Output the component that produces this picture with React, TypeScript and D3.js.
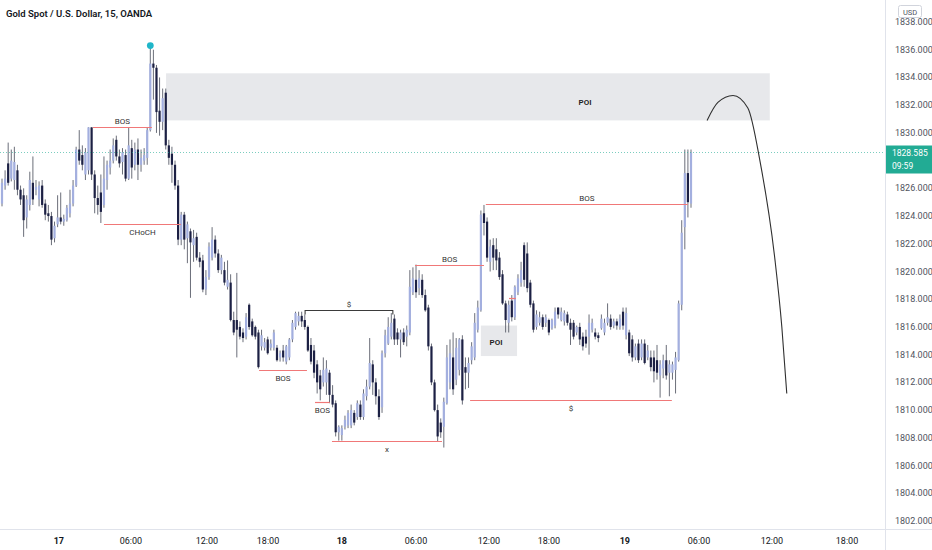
import React from "react";
import * as d3 from "d3";

type Candle = [number, number, number, number]; // open, high, low, close

const candlesDay17: Candle[] = [
  [1824.9,1826.7,1824.7,1826.4],[1826.2,1827.3,1825.9,1826.7],[1827.8,1829.3,1826.2,1826.4],[1826.7,1828.8,1826.5,1828.0],
  [1826.6,1829.0,1825.9,1827.9],[1827.3,1827.7,1825.5,1825.9],[1825.9,1826.2,1824.8,1825.2],[1825.5,1826.0,1822.5,1823.7],
  [1823.9,1825.5,1823.1,1825.2],[1824.8,1827.2,1824.4,1826.6],[1826.4,1828.3,1824.8,1825.2],[1825.9,1826.6,1825.5,1826.1],
  [1825.2,1826.5,1824.7,1826.2],[1826.2,1826.6,1824.6,1824.8],[1824.9,1825.2,1823.7,1824.1],[1824.2,1824.8,1823.6,1824.0],
  [1824.0,1824.3,1821.9,1822.3],[1822.4,1823.6,1822.1,1823.3],[1823.4,1825.5,1823.2,1823.9],[1823.9,1825.7,1823.4,1823.6],
  [1823.6,1824.1,1823.3,1823.8],[1823.7,1824.8,1823.6,1824.6],[1824.2,1825.9,1823.9,1824.9],[1824.9,1826.6,1824.7,1826.2],
  [1826.2,1829.0,1826.1,1828.8],[1828.8,1830.2,1827.7,1828.0],[1828.4,1829.1,1827.3,1827.7],[1827.0,1828.9,1826.6,1828.6],
  [1827.3,1830.4,1827.0,1830.4],[1830.4,1830.4,1826.6,1827.0],[1827.0,1827.3,1824.2,1825.3],[1825.3,1826.2,1824.1,1824.8],
  [1825.7,1827.0,1823.5,1824.3],[1824.8,1828.3,1824.6,1826.7],[1826.6,1828.0,1825.9,1827.7],[1827.5,1828.8,1827.0,1828.0],
  [1828.0,1829.6,1827.8,1829.1],[1829.5,1829.8,1828.0,1828.3],[1828.3,1828.8,1827.5,1827.8],[1827.9,1828.9,1827.0,1828.6],
  [1828.4,1828.8,1826.5,1826.7],[1826.7,1830.4,1826.6,1829.1],[1828.9,1829.5,1826.7,1827.5],[1827.7,1829.3,1827.3,1828.8],
  [1828.8,1829.6,1826.6,1827.7],[1827.7,1828.8,1827.2,1828.2],[1828.0,1828.9,1827.7,1828.4],[1828.2,1830.4,1827.7,1830.2],
  [1830.2,1836.3,1830.1,1835.0],[1835.0,1836.0,1832.4,1834.7],[1834.7,1834.9,1830.0,1831.5],[1831.6,1834.0,1829.8,1830.8],
  [1830.8,1833.2,1830.2,1832.5],[1832.9,1833.2,1828.8,1829.1],[1829.1,1829.5,1827.7,1828.2],[1828.5,1829.0,1826.4,1827.7],
  [1827.7,1828.0,1825.9,1826.2],[1826.2,1826.6,1821.9,1822.3],[1822.3,1824.3,1821.9,1824.1],[1824.1,1824.3,1821.6,1822.3],
  [1822.4,1823.6,1820.6,1823.4],[1822.9,1823.1,1818.1,1822.1],[1821.9,1823.0,1820.7,1822.4],[1822.5,1822.8,1820.8,1821.0],
  [1821.0,1821.4,1820.3,1820.7],[1820.8,1821.2,1818.5,1818.7],[1818.7,1820.1,1818.3,1819.6],[1819.6,1822.1,1819.4,1821.8],
  [1821.0,1823.2,1820.8,1822.3],[1822.3,1822.6,1821.0,1821.3],[1821.3,1821.6,1819.9,1820.1],[1820.1,1821.2,1819.8,1821.0],
  [1820.1,1820.7,1819.0,1819.2],[1818.9,1820.8,1818.7,1819.4],[1819.2,1819.8,1816.4,1816.5],[1816.5,1817.1,1815.4,1815.6],
  [1816.5,1819.9,1813.8,1815.8],[1816.0,1816.4,1815.1,1815.3],[1815.6,1815.9,1814.9,1815.2],[1815.3,1817.0,1815.1,1816.7],
  [1817.6,1817.7,1815.8,1816.0],[1816.4,1816.6,1815.3,1815.4],[1816.0,1816.1,1815.1,1815.3],[1815.6,1815.8,1813.0,1813.1],
  [1814.6,1815.8,1814.3,1815.4],[1814.5,1815.2,1814.3,1814.9],[1815.1,1815.3,1814.0,1814.1],[1814.5,1815.1,1814.3,1814.8],
  [1814.5,1815.8,1814.3,1815.6],[1814.5,1814.7,1813.5,1813.6],[1813.8,1814.3,1813.5,1814.1],[1814.3,1814.7,1813.5,1813.8],
  [1813.5,1814.7,1813.3,1814.6],[1813.8,1815.2,1813.6,1815.1],[1815.1,1816.5,1814.9,1816.3],[1816.0,1817.1,1815.8,1817.0],
  [1816.4,1817.1,1816.1,1816.8],[1816.8,1817.1,1816.0,1816.4],[1816.5,1816.9,1815.8,1816.0],[1816.0,1816.1,1814.2,1814.3],
  [1814.7,1815.2,1813.3,1813.5],[1814.3,1814.7,1812.3,1812.7],[1813.3,1813.6,1811.2,1812.0],[1812.5,1812.9,1810.7,1811.5],
  [1812.0,1813.8,1811.7,1812.9],[1812.0,1813.6,1811.1,1813.0],[1812.7,1812.9,1810.5,1811.1],[1811.1,1811.8,1810.2,1810.4],
  [1810.5,1810.7,1808.1,1808.4],[1808.4,1808.9,1807.8,1808.8],
];

const candlesDay18: Candle[] = [
  [1808.2,1808.9,1807.8,1808.7],[1808.8,1809.6,1808.6,1809.3],[1808.9,1810.0,1808.7,1809.8],[1808.9,1810.4,1808.7,1810.0],
  [1809.8,1810.0,1808.9,1809.1],[1809.5,1810.7,1809.3,1810.5],[1810.4,1810.7,1809.3,1809.5],[1809.5,1811.5,1809.3,1811.2],
  [1811.0,1812.2,1810.7,1811.7],[1811.7,1815.2,1811.5,1813.4],[1813.3,1813.6,1811.1,1812.0],[1812.0,1812.3,1810.4,1811.0],
  [1811.0,1811.5,1809.3,1809.5],[1810.2,1814.3,1809.8,1814.1],[1814.1,1815.8,1813.8,1815.4],[1814.8,1816.7,1814.7,1816.0],
  [1815.3,1817.0,1815.1,1816.3],[1816.6,1816.9,1814.7,1815.1],[1815.6,1815.9,1814.7,1815.1],[1815.1,1815.8,1813.8,1815.6],
  [1815.6,1815.9,1814.7,1814.9],[1815.3,1816.1,1814.6,1815.8],[1815.6,1820.1,1815.4,1818.9],[1818.5,1820.3,1818.3,1819.5],
  [1819.4,1820.5,1818.1,1818.5],[1818.8,1820.1,1818.3,1819.5],[1819.4,1819.8,1818.1,1818.3],[1818.3,1818.7,1817.1,1817.2],
  [1817.4,1817.6,1814.3,1814.6],[1814.6,1814.8,1811.8,1812.0],[1812.0,1812.2,1809.9,1810.0],[1810.0,1810.4,1807.7,1808.1],
  [1809.1,1809.4,1808.0,1808.4],[1808.8,1810.9,1807.3,1810.6],[1810.5,1814.7,1810.4,1813.8],[1812.0,1815.1,1811.5,1814.1],
  [1813.8,1815.6,1811.1,1811.5],[1812.2,1815.2,1811.8,1814.5],[1812.9,1815.2,1812.5,1815.1],[1815.1,1815.4,1810.4,1810.7],
  [1813.1,1813.8,1811.5,1812.7],[1812.7,1813.8,1811.6,1813.4],[1813.6,1814.9,1813.3,1814.6],[1813.8,1817.0,1813.6,1816.3],
  [1815.8,1817.9,1815.6,1817.4],[1817.2,1824.4,1817.1,1824.1],[1824.2,1824.8,1822.6,1823.5],[1823.6,1823.9,1820.7,1821.0],
  [1820.7,1822.3,1820.0,1821.8],[1821.9,1822.4,1820.1,1821.0],[1821.6,1822.4,1820.1,1820.8],[1821.0,1821.4,1819.4,1819.6],
  [1819.8,1820.1,1817.6,1817.7],[1817.7,1817.9,1815.6,1816.5],[1816.3,1817.9,1815.6,1817.6],[1817.9,1818.3,1816.4,1816.7],
  [1816.7,1819.0,1816.5,1818.9],[1818.5,1819.8,1818.3,1819.5],[1819.2,1820.7,1818.9,1820.1],[1821.9,1822.1,1818.9,1819.4],
  [1821.3,1822.1,1818.5,1818.8],[1819.2,1819.4,1817.4,1817.6],[1817.7,1817.9,1815.6,1815.8],[1816.0,1817.2,1815.8,1816.9],
  [1816.3,1817.1,1816.1,1816.7],[1816.7,1816.9,1815.8,1816.0],[1816.3,1816.9,1816.0,1816.7],[1816.5,1816.6,1815.4,1815.6],
  [1815.9,1816.6,1815.8,1816.5],[1816.1,1817.4,1815.9,1817.1],[1817.4,1817.4,1816.6,1816.9],[1816.5,1817.4,1816.4,1817.1],
  [1816.4,1817.2,1816.1,1817.0],[1816.9,1817.1,1816.1,1816.3],[1816.3,1816.6,1814.7,1815.8],[1816.3,1816.5,1815.1,1815.3],
  [1815.6,1816.1,1815.4,1816.0],[1816.0,1816.3,1814.7,1815.1],[1815.3,1815.6,1814.3,1814.6],[1815.3,1815.8,1814.5,1814.8],
  [1815.3,1816.9,1814.0,1816.3],[1815.8,1816.6,1815.6,1816.3],[1815.6,1815.9,1815.1,1815.3],[1815.4,1815.6,1814.9,1815.2],
  [1815.9,1816.9,1815.8,1816.6],[1815.6,1816.6,1815.4,1816.3],[1816.3,1817.7,1816.1,1816.7],[1816.6,1816.9,1815.8,1816.0],
  [1816.1,1816.6,1815.9,1816.4],[1816.4,1816.6,1815.8,1816.1],[1816.0,1816.9,1815.8,1816.6],[1817.1,1817.4,1815.8,1816.1],
];

const candlesDay19: Candle[] = [
  [1815.4,1817.4,1815.1,1817.0],[1815.6,1815.8,1813.9,1814.1],[1815.1,1815.4,1813.5,1813.8],[1813.8,1814.8,1813.6,1814.6],
  [1814.8,1815.1,1813.4,1813.6],[1813.8,1815.1,1813.6,1814.8],[1814.8,1815.1,1813.3,1813.4],[1813.8,1814.7,1813.6,1814.3],
  [1813.8,1814.3,1812.8,1813.1],[1813.8,1814.3,1812.0,1812.8],[1813.6,1814.7,1812.2,1812.7],[1812.5,1813.6,1810.9,1813.3],
  [1813.0,1814.0,1812.3,1813.6],[1813.6,1814.7,1812.2,1812.5],[1812.7,1813.6,1811.0,1813.3],[1812.7,1813.5,1812.2,1813.3],
  [1812.9,1814.2,1811.2,1813.8],[1813.6,1817.9,1813.5,1817.7],[1817.6,1823.7,1817.2,1822.8],[1823.2,1828.8,1821.6,1827.1],
  [1827.1,1828.8,1823.9,1825.0],[1824.9,1828.8,1824.6,1828.585],
];

const title = "Gold Spot / U.S. Dollar, 15, OANDA";
const currency = "USD";
const lastPrice = 1828.585;
const countdown = "09:59";

// 1828.000 is hidden behind the last-price label in the reference
const priceTicks = [1802, 1804, 1806, 1808, 1810, 1812, 1814, 1816, 1818, 1820, 1822, 1824, 1826, 1830, 1832, 1834, 1836, 1838];
const timeTickLabels = ["17", "06:00", "12:00", "18:00", "18", "06:00", "12:00", "18:00", "19", "06:00", "12:00", "18:00"];
const timeTickBars = [18.4, 41.7, 66.3, 86.1, 110.0, 134.0, 157.6, 177.0, 201.6, 225.6, 249.2, 273.5];
const timeTickIsDay = [true, false, false, false, true, false, false, false, true, false, false, false];

// market structure levels (bar index ranges)
const levelLabels = ["BOS", "CHoCH", "BOS", "$", "BOS", "x", "BOS", "BOS", "$", ""];
const levelPrices = [1830.4, 1823.4, 1812.9, 1817.2, 1810.6, 1807.8, 1820.5, 1824.9, 1810.7, 1818.1];
const levelFrom = [29.4, 33.0, 83.2, 98.1, 101.3, 106.8, 133.7, 156.6, 151.5, 164.1];
const levelTo = [48.5, 57.9, 98.7, 126.5, 106.1, 142.4, 156.0, 222.0, 216.8, 166.3];
const levelKind = ["bos", "choch", "bos", "range", "bos", "bos", "bos", "bos", "bos", "bos"];
const levelLabelAbove = [true, false, false, true, false, false, true, true, false, false];

// POI zones
const poiLabels = ["POI", "POI"];
const poiFrom = [53.1, 155.0];
const poiTo = [248.5, 166.7];
const poiLow = [1830.9, 1813.9];
const poiHigh = [1834.3, 1816.1];
const poiLabelBar = [188.7, 159.9];
const poiLabelPrice = [1832.2, 1814.9];

// projected path
const projBars = [228.2, 231.7, 236.6, 241.4, 245.3, 250.2, 252.4, 254.0];
const projPrices = [1830.9, 1832.2, 1832.7, 1831.8, 1828.0, 1820.8, 1816.0, 1811.2];

export default function App() {
  const candles = [...candlesDay17, ...candlesDay18, ...candlesDay19];
  const W = 932, H = 550;
  const plotRight = 885, plotBottom = 529;
  const x = d3.scaleLinear().domain([0, candles.length - 1]).range([2, 691]);
  const y = d3.scaleLinear().domain([1802, 1838]).range([521, 22]);
  const bodyW = 2.2;
  const upColor = "#a3afdf";
  const downColor = "#1c2044";
  const wickColor = "#5a5d6a";
  const font = "Roboto, 'Liberation Sans', sans-serif";

  const hiIdx = d3.maxIndex(candles, (c) => c[1]);
  const proj = d3
    .line<number>()
    .x((d, i) => x(projBars[i]))
    .y((d) => y(d))
    .curve(d3.curveMonotoneX)(projPrices);

  const ly = y(lastPrice);

  return (
    <div style={{ position: "fixed", left: 0, top: 0, width: W, height: H, background: "#fff" }}>
      <svg width={W} height={H} style={{ display: "block", fontFamily: font }}>
        <rect x={0} y={0} width={W} height={H} fill="#ffffff" />
        <defs>
          <clipPath id="plot">
            <rect x={0} y={0} width={plotRight} height={plotBottom} />
          </clipPath>
        </defs>
        <g clipPath="url(#plot)">
          {/* POI zones */}
          {poiLabels.map((lab, i) => (
            <rect
              key={"poi" + i}
              x={x(poiFrom[i])}
              y={y(poiHigh[i])}
              width={x(poiTo[i]) - x(poiFrom[i])}
              height={y(poiLow[i]) - y(poiHigh[i])}
              fill="#e3e4e8"
              fillOpacity={0.85}
            />
          ))}
          {/* candles */}
          {candles.map((c, i) => {
            const [o, h, l, cl] = c;
            const up = cl >= o;
            const top = y(Math.max(o, cl));
            const bot = y(Math.min(o, cl));
            return (
              <g key={i}>
                <line x1={x(i)} x2={x(i)} y1={y(h)} y2={y(l)} stroke={wickColor} strokeWidth={0.9} />
                <rect
                  x={x(i) - bodyW / 2}
                  y={top}
                  width={bodyW}
                  height={Math.max(0.8, bot - top)}
                  fill={up ? upColor : downColor}
                />
              </g>
            );
          })}
          {/* structure levels */}
          {levelPrices.map((p, i) => {
            const yy = Math.round(y(p)) + 0.5;
            const x1 = x(levelFrom[i]);
            const x2 = x(levelTo[i]);
            const kind = levelKind[i];
            const color = kind === "range" ? "#3b3b3b" : "#f07878";
            const mid = (x1 + x2) / 2;
            const d =
              kind === "range"
                ? `M${x1},${yy + 4}V${yy}H${x2}V${yy + 4}`
                : `M${x1},${yy}H${x2}`;
            return (
              <g key={"lv" + i}>
                <path d={d} fill="none" stroke={color} strokeWidth={kind === "range" ? 1.1 : 1.2} />
                {levelLabels[i] && (
                  <text
                    x={mid}
                    y={levelLabelAbove[i] ? yy - 4 : yy + 10}
                    textAnchor="middle"
                    fontSize={8}
                    fill="#333"
                  >
                    {levelLabels[i]}
                  </text>
                )}
              </g>
            );
          })}
          {/* POI labels */}
          {poiLabels.map((lab, i) => (
            <text
              key={"poil" + i}
              x={x(poiLabelBar[i])}
              y={y(poiLabelPrice[i]) + 3}
              textAnchor="middle"
              fontSize={8}
              fontWeight={600}
              fill="#222"
            >
              {lab}
            </text>
          ))}
          {/* high marker */}
          <circle cx={x(hiIdx)} cy={y(candles[hiIdx][1])} r={3.4} fill="#1fb6c9" />
          {/* projection */}
          <path d={proj || ""} fill="none" stroke="#2f2f2f" strokeWidth={1.1} />
          {/* last price line */}
          <line x1={0} x2={plotRight} y1={ly} y2={ly} stroke="#22ab94" strokeOpacity={0.75} strokeWidth={0.8} strokeDasharray="1 2" />
        </g>

        {/* title */}
        <text x={6} y={17} fontSize={9.5} fontWeight={600} fill="#131722">
          {title}
        </text>

        {/* axes borders */}
        <line x1={plotRight + 0.5} x2={plotRight + 0.5} y1={0} y2={H} stroke="#e0e3eb" />
        <line x1={0} x2={W} y1={plotBottom + 0.5} y2={plotBottom + 0.5} stroke="#e0e3eb" />

        {/* price axis */}
        {priceTicks.map((t) => (
          <text key={"pt" + t} x={895} y={y(t) + 3} fontSize={9} fill="#50535e">
            {d3.format(".3f")(t)}
          </text>
        ))}
        <rect x={898.5} y={5.5} width={23} height={12} rx={2} fill="#fff" stroke="#d1d4dc" />
        <text x={910} y={14.5} textAnchor="middle" fontSize={7.5} fill="#50535e">
          {currency}
        </text>
        <rect x={plotRight + 1} y={ly - 7} width={W - plotRight - 1} height={28} fill="#22ab94" />
        <text x={892} y={ly + 3.5} fontSize={8.5} fill="#ffffff">
          {d3.format(".3f")(lastPrice)}
        </text>
        <text x={892} y={ly + 16} fontSize={8.5} fill="#ffffff">
          {countdown}
        </text>

        {/* time axis */}
        {timeTickLabels.map((t, i) => (
          <text
            key={"tt" + i}
            x={x(timeTickBars[i])}
            y={544}
            textAnchor="middle"
            fontSize={9}
            fontWeight={timeTickIsDay[i] ? 700 : 400}
            fill="#131722"
          >
            {t}
          </text>
        ))}
      </svg>
    </div>
  );
}
